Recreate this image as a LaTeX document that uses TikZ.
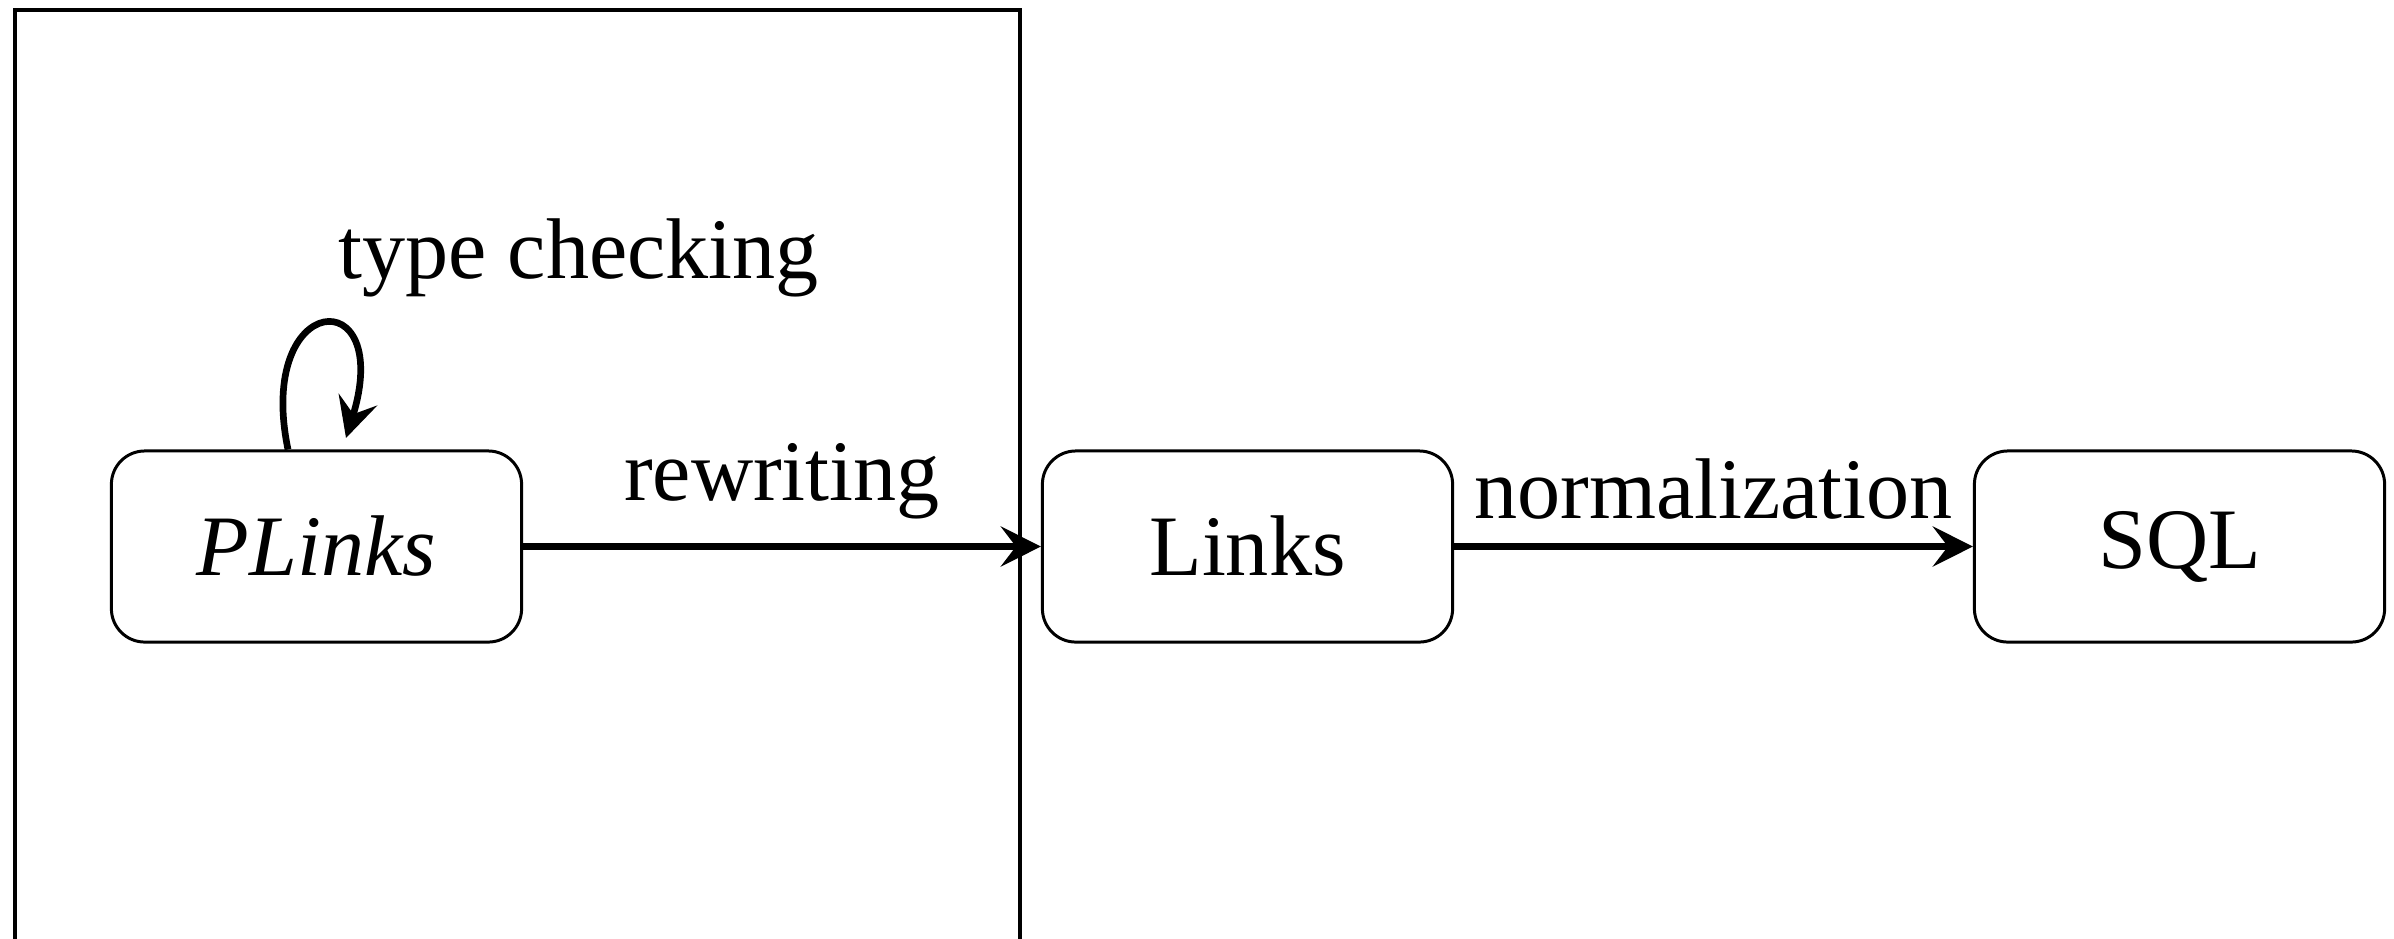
\documentclass[tikz,border=0pt]{standalone}
\usepackage{fontspec}
\setmainfont{Liberation Serif}
\usetikzlibrary{arrows.meta}
\begin{document}
\begin{tikzpicture}[x=0.01cm,y=-0.01cm,
  every node/.style={font=\fontsize{24.5}{29}\selectfont},
  statebox/.style={draw, line width=0.85pt, rounded corners=9.5pt,
    minimum width=4.1cm, minimum height=1.91cm, inner sep=0pt},
  framebox/.style={draw, line width=1.2pt, inner sep=0pt},
  edgelabel/.style={yshift=3.5pt},
  conn/.style={line width=1.9pt,
    -{Stealth[length=11.4pt,width=11.4pt,inset=4.3pt]}}]
\useasboundingbox (0,0) rectangle (2394,938);
\node[framebox, minimum width=10.04cm, minimum height=9.3cm, anchor=north west] (frame) at (13,8) {};
\node[statebox] (PLinks) at (316.5,546.5) {\textit{PLinks}};
\node[statebox] (Links) at (1247.5,546.5) {Links};
\node[statebox] (SQL) at (2179.5,546.5) {SQL};
\coordinate (ls) at ([xshift=1.78cm]PLinks.north west);
\coordinate (le) at (346,438);
\draw[conn] (ls) .. controls (255,290) and (395,280) .. (le)
  node[midway, above right, edgelabel] {type checking};
\draw[conn] (PLinks) -- (Links) node[midway, above, edgelabel] {rewriting};
\draw[conn] (Links) -- (SQL) node[midway, above, edgelabel] {normalization};
\end{tikzpicture}
\end{document}
